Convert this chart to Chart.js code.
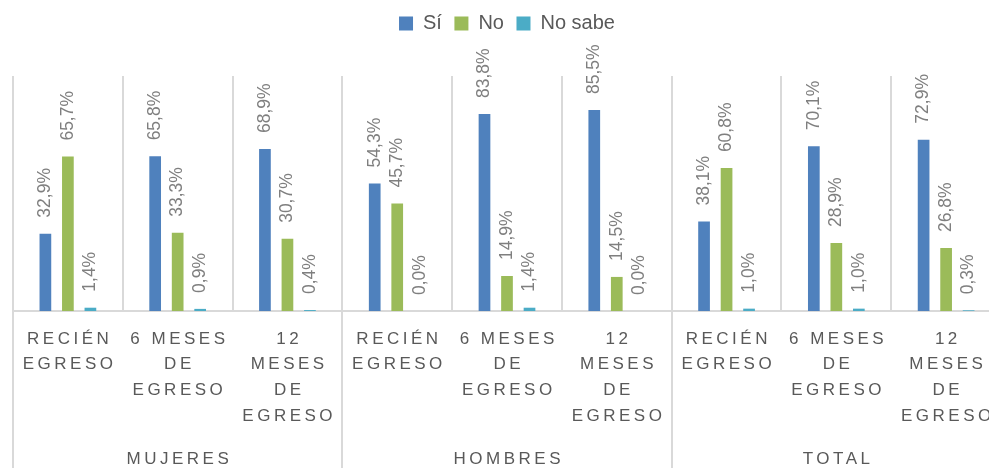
<!DOCTYPE html>
<html lang="es">
<head>
<meta charset="utf-8">
<title>Egreso</title>
<script src="https://cdn.jsdelivr.net/npm/chart.js@4.4.1/dist/chart.umd.min.js"></script>
<style>
  html, body { margin: 0; padding: 0; background: #fff; overflow: hidden; }
  canvas { display: block; }
</style>
</head>
<body>
<canvas id="egresoChart" width="1023" height="468"></canvas>
<script>
// Data
const groups = ['MUJERES', 'HOMBRES', 'TOTAL'];
const periods = [['RECIÉN', 'EGRESO'], ['6 MESES', 'DE', 'EGRESO'], ['12', 'MESES', 'DE', 'EGRESO']];
const si = [32.9, 65.8, 68.9, 54.3, 83.8, 85.5, 38.1, 70.1, 72.9];
const no = [65.7, 33.3, 30.7, 45.7, 14.9, 14.5, 60.8, 28.9, 26.8];
const noSabe = [1.4, 0.9, 0.4, 0.0, 1.4, 0.0, 1.0, 1.0, 0.3];

const labels = groups.flatMap(g => periods.map(p => g + ' ' + p.join(' ')));

Chart.defaults.font.family = '"Liberation Sans", Arial, sans-serif';

// rotated value labels + spaced category / group labels
const labelPlugin = {
  id: 'egresoLabels',
  afterDatasetsDraw(chart) {
    const ctx = chart.ctx;
    const x = chart.scales.x;

    ctx.save();
    ctx.font = '17.5px "Liberation Sans", Arial, sans-serif';
    ctx.fillStyle = '#7f7f7f';
    ctx.textAlign = 'left';
    ctx.textBaseline = 'middle';
    chart.data.datasets.forEach((ds, d) => {
      chart.getDatasetMeta(d).data.forEach((bar, i) => {
        ctx.save();
        ctx.translate(bar.x, bar.y - 16);
        ctx.rotate(-Math.PI / 2);
        ctx.fillText(ds.data[i].toFixed(1).replace('.', ',') + '%', 0, 0);
        ctx.restore();
      });
    });
    ctx.restore();

    ctx.save();
    ctx.font = '17px "Liberation Sans", Arial, sans-serif';
    ctx.fillStyle = '#595959';
    ctx.letterSpacing = '3.5px';
    ctx.textAlign = 'center';
    ctx.textBaseline = 'middle';
    labels.forEach((_, i) => {
      const cx = x.getPixelForValue(i) + 1.75;
      periods[i % 3].forEach((line, k) => {
        ctx.fillText(line, cx, x.top + 28 + k * 25.8);
      });
    });
    groups.forEach((g, n) => {
      const cx = (x.getPixelForValue(3 * n) + x.getPixelForValue(3 * n + 2)) / 2 + 1.75;
      ctx.fillText(g, cx, x.top + 148);
    });
    ctx.restore();
  }
};

new Chart(document.getElementById('egresoChart'), {
  type: 'bar',
  data: {
    labels: labels,
    datasets: [
      { label: 'Sí', data: si, backgroundColor: '#4F81BD', borderWidth: 0 },
      { label: 'No', data: no, backgroundColor: '#9BBB59', borderWidth: 0 },
      { label: 'No sabe', data: noSabe, backgroundColor: '#4BACC6', borderWidth: 0 }
    ]
  },
  options: {
    responsive: false,
    animation: false,
    devicePixelRatio: 1,
    layout: { padding: { top: 1, left: 13, right: 22, bottom: 0 } },
    datasets: { bar: { categoryPercentage: 0.615, barPercentage: 0.52 } },
    plugins: {
      legend: {
        position: 'top',
        labels: { boxWidth: 14, boxHeight: 14, padding: 12.5, color: '#595959', font: { size: 20 } }
      },
      tooltip: { enabled: false }
    },
    scales: {
      x: {
        grid: {
          color: '#d9d9d9',
          lineWidth: 2,
          offset: true,
          drawTicks: true,
          tickLength: 157,
          tickColor: c => (c.index % 3 === 0 ? '#d9d9d9' : 'rgba(0,0,0,0)')
        },
        border: { color: '#d9d9d9', width: 2 },
        ticks: { display: false },
        afterFit: s => { s.height = 157; }
      },
      xTop: {
        type: 'category',
        position: 'top',
        labels: [''],
        grid: { display: false },
        border: { display: false },
        ticks: { display: false },
        afterFit: s => { s.height = 32.5; }
      },
      y: { display: false, min: 0, max: 100 }
    }
  },
  plugins: [labelPlugin]
});
</script>
</body>
</html>
